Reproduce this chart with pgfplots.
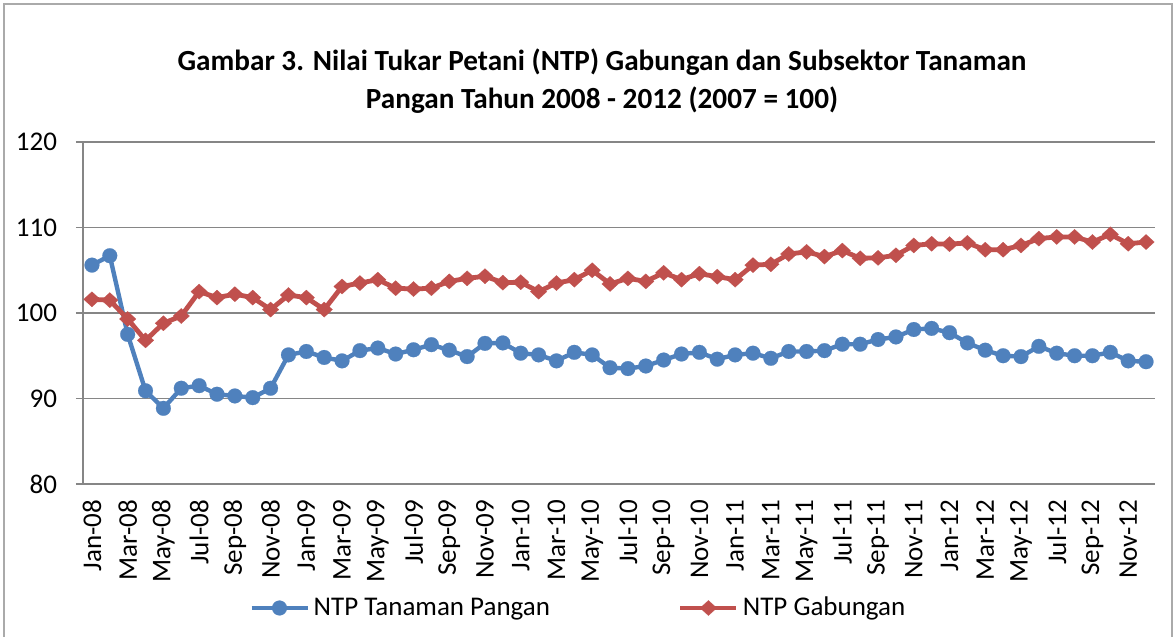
\documentclass[border=0pt]{standalone}
\usepackage{fontspec}
\setmainfont{Carlito}
\usepackage{pgfplots}
\pgfplotsset{compat=1.18}
\definecolor{blueS}{HTML}{4F81BD}
\definecolor{redS}{HTML}{C0504D}
\definecolor{gridG}{HTML}{868686}
\begin{document}
\begin{tikzpicture}
\useasboundingbox (0,0) rectangle (587.5pt,318.5pt);
\draw[gridG!70, line width=0.8pt] (2pt,-5pt) rectangle (586pt,316.5pt);
\node[font=\fontsize{14.6}{19}\selectfont\bfseries, align=center] at (301pt,278pt)
  {Gambar 3. Nilai Tukar Petani (NTP) Gabungan dan Subsektor Tanaman\\Pangan Tahun 2008 - 2012 (2007 = 100)};
\begin{axis}[
  at={(41.5pt,76.5pt)}, anchor=south west,
  scale only axis, width=536pt, height=171pt,
  xmin=-0.5, xmax=59.5, ymin=80, ymax=120,
  ytick={80,90,...,120},
  ymajorgrids, grid style={gridG, line width=0.7pt},
  axis x line*=bottom, axis y line*=left,
  axis line style={gridG, line width=0.7pt},
  every tick/.style={gridG, line width=0.7pt},
  tick align=outside, major tick length=3.5pt,
  xtick={0,2,...,58},
  xticklabels={Jan-08,Mar-08,May-08,Jul-08,Sep-08,Nov-08,Jan-09,Mar-09,May-09,Jul-09,Sep-09,Nov-09,Jan-10,Mar-10,May-10,Jul-10,Sep-10,Nov-10,Jan-11,Mar-11,May-11,Jul-11,Sep-11,Nov-11,Jan-12,Mar-12,May-12,Jul-12,Sep-12,Nov-12},
  x tick style={draw=none},
  minor xtick={-0.5,1.5,...,59.5},
  minor tick length=3.5pt,
  x tick label style={rotate=90, anchor=east, xshift=-1pt},
  ticklabel style={font=\fontsize{13.5}{15}\selectfont},
  /pgf/number format/assume math mode=true,
  y tick label style={xshift=-6pt},
  legend columns=2,
  legend style={at={(0.463,-0.3626)}, anchor=center, draw=none, fill=none,
    font=\fontsize{13.5}{15}\selectfont,
    /tikz/every even column/.append style={column sep=62pt},
    /tikz/every odd column/.append style={column sep=0pt}},
  legend image code/.code={\draw[mark repeat=2,mark phase=2] plot coordinates {(0pt,0pt) (14pt,0pt) (28pt,0pt)};},
]
\addplot[blueS, line width=2.2pt, mark=*, mark size=3.7pt, mark options={solid, fill=blueS, draw=blueS, line width=0.1pt}] coordinates {
(0,105.6)(1,106.7)(2,97.5)(3,90.9)(4,88.85)(5,91.2)(6,91.5)(7,90.5)(8,90.3)(9,90.1)
(10,91.2)(11,95.1)(12,95.5)(13,94.8)(14,94.4)(15,95.6)(16,95.9)(17,95.2)(18,95.7)(19,96.3)
(20,95.65)(21,94.9)(22,96.45)(23,96.5)(24,95.3)(25,95.1)(26,94.4)(27,95.4)(28,95.1)(29,93.6)
(30,93.5)(31,93.8)(32,94.5)(33,95.2)(34,95.4)(35,94.6)(36,95.1)(37,95.3)(38,94.7)(39,95.5)
(40,95.5)(41,95.6)(42,96.35)(43,96.35)(44,96.9)(45,97.2)(46,98.07)(47,98.2)(48,97.7)(49,96.5)
(50,95.65)(51,95.0)(52,94.9)(53,96.1)(54,95.3)(55,95.0)(56,95.0)(57,95.4)(58,94.4)(59,94.3)};
\addlegendentry{NTP Tanaman Pangan}
\addplot[redS, line width=2.4pt, mark=diamond*, mark size=3.8pt, mark options={solid, fill=redS, draw=redS, line width=0.1pt, xscale=1.45}] coordinates {
(0,101.6)(1,101.5)(2,99.3)(3,96.8)(4,98.8)(5,99.65)(6,102.5)(7,101.8)(8,102.2)(9,101.8)
(10,100.4)(11,102.1)(12,101.8)(13,100.4)(14,103.1)(15,103.5)(16,103.9)(17,102.9)(18,102.8)(19,102.9)
(20,103.7)(21,104.05)(22,104.3)(23,103.55)(24,103.6)(25,102.5)(26,103.5)(27,103.9)(28,105.0)(29,103.4)
(30,104.05)(31,103.7)(32,104.7)(33,103.9)(34,104.6)(35,104.25)(36,103.9)(37,105.6)(38,105.7)(39,106.9)
(40,107.15)(41,106.6)(42,107.3)(43,106.4)(44,106.45)(45,106.75)(46,107.9)(47,108.1)(48,108.05)(49,108.2)
(50,107.4)(51,107.4)(52,107.9)(53,108.7)(54,108.9)(55,108.9)(56,108.3)(57,109.2)(58,108.1)(59,108.3)};
\addlegendentry{NTP Gabungan}
\end{axis}
\end{tikzpicture}
\end{document}
